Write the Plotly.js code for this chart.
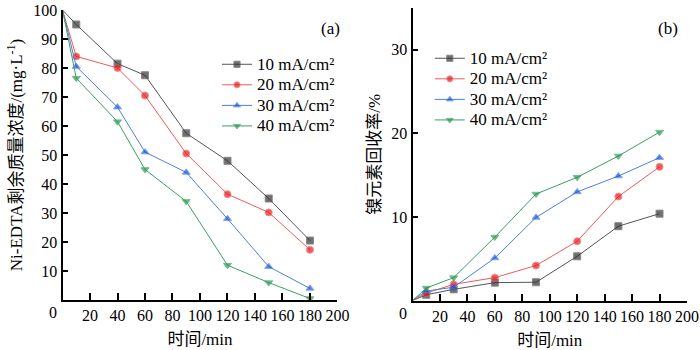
<!DOCTYPE html>
<html>
<head>
<meta charset="utf-8">
<script src="https://cdn.plot.ly/plotly-3.0.1.min.js"></script>
<style>html,body{margin:0;padding:0;background:#fff;}#chart{width:700px;height:350px;}</style>
</head>
<body>
<div id="chart"></div>
<script>
// Panel (a): Ni-EDTA residual concentration
const timeA = [0, 10, 40, 60, 90, 120, 150, 180];
const concA_10 = [100, 95, 81.5, 77.5, 57.5, 48, 35, 20.5];
const concA_20 = [100, 84, 80, 70.5, 50.5, 36.5, 30.2, 17.3];
const concA_30 = [100, 80.5, 66.5, 51, 44, 28, 11.5, 4];
const concA_40 = [100, 76.5, 61.5, 45, 34, 12, 6, 0.5];

// Panel (b): Ni recovery rate
const timeB = [0, 10, 30, 60, 90, 120, 150, 180];
const recB_10 = [0, 0.7, 1.35, 2.15, 2.2, 5.3, 8.9, 10.4];
const recB_20 = [0, 0.9, 1.95, 2.75, 4.2, 7.1, 12.45, 16.0];
const recB_30 = [0, 1.15, 1.6, 5.1, 9.95, 13.0, 14.9, 17.1];
const recB_40 = [0, 1.5, 2.75, 7.6, 12.75, 14.75, 17.3, 20.15];

const seriesNames = ['10 mA/cm²', '20 mA/cm²', '30 mA/cm²', '40 mA/cm²'];
const xTicks = [20, 40, 60, 80, 100, 120, 140, 160, 180, 200];
const yTicksA = [10, 20, 30, 40, 50, 60, 70, 80, 90, 100];
const yTicksB = [10, 20, 30];

const FONT = '"Liberation Serif", "Noto Sans CJK SC", serif';
const styles = [
  {line: '#555555', marker: '#333333', symbol: 'square'},
  {line: '#f05a5a', marker: '#e8161b', symbol: 'circle'},
  {line: '#4b7fe0', marker: '#1250e0', symbol: 'triangle-up'},
  {line: '#3aa062', marker: '#1f9a50', symbol: 'triangle-down'}
];
const sizes = () => timeA.map((_, i) => i === 0 ? 0 : 7);
const legendLabel = (s) => '<span style="font-size:17px">' + s + '</span>';

const dataA = [concA_10, concA_20, concA_30, concA_40];
const dataB = [recB_10, recB_20, recB_30, recB_40];
const traces = [];
dataA.forEach((ys, k) => traces.push({
  x: timeA, y: ys, xaxis: 'x', yaxis: 'y', type: 'scatter', mode: 'lines+markers',
  name: legendLabel(seriesNames[k]), legend: 'legend', cliponaxis: false,
  line: {color: styles[k].line, width: 1},
  marker: {color: styles[k].marker, symbol: styles[k].symbol, size: sizes()}
}));
dataB.forEach((ys, k) => traces.push({
  x: timeB, y: ys, xaxis: 'x2', yaxis: 'y2', type: 'scatter', mode: 'lines+markers',
  name: legendLabel(seriesNames[k]), legend: 'legend2', cliponaxis: false,
  line: {color: styles[k].line, width: 1},
  marker: {color: styles[k].marker, symbol: styles[k].symbol, size: sizes()}
}));

const mkFont = (s) => ({family: FONT, size: s, color: '#000'});
const axisCommon = {
  showline: true, linecolor: '#000', linewidth: 2, mirror: false,
  ticks: 'inside', tickwidth: 2, tickcolor: '#000', showgrid: false, zeroline: false,
  tickfont: mkFont(16), tickangle: 0, fixedrange: true
};
const titleFont = mkFont(17);

const layout = {
  width: 700, height: 350,
  margin: {l: 0, r: 0, t: 0, b: 0},
  paper_bgcolor: '#fff', plot_bgcolor: '#fff',
  font: mkFont(16),
  xaxis: Object.assign({}, axisCommon, {domain: [0.0893, 0.4821], range: [0, 200], anchor: 'y',
    tickmode: 'array', tickvals: xTicks, ticklen: 7,
    title: {text: '时间/min', font: titleFont, standoff: 10}}),
  yaxis: Object.assign({}, axisCommon, {domain: [0.142857, 0.971429], range: [0, 100], anchor: 'x',
    tickmode: 'array', tickvals: yTicksA, ticklen: 5,
    title: {text: 'Ni-EDTA剩余质量浓度/(mg·L<sup>-1</sup>)', font: titleFont, standoff: 6}}),
  xaxis2: Object.assign({}, axisCommon, {domain: [0.5893, 0.9814], range: [0, 200], anchor: 'y2',
    tickmode: 'array', tickvals: xTicks, ticklen: 7,
    title: {text: '时间/min', font: titleFont, standoff: 10}}),
  yaxis2: Object.assign({}, axisCommon, {domain: [0.1411, 0.9771], range: [0, 35], anchor: 'x2',
    tickmode: 'array', tickvals: yTicksB, ticklen: 5,
    title: {text: '镍元素回收率/%', font: titleFont, standoff: 6}}),
  legend: {x: 0.31, y: 1 - 49/350, xanchor: 'left', yanchor: 'top', bgcolor: 'rgba(0,0,0,0)',
    font: mkFont(13.5), tracegroupgap: 0, itemwidth: 30},
  legend2: {x: 0.614, y: 1 - 43/350, xanchor: 'left', yanchor: 'top', bgcolor: 'rgba(0,0,0,0)',
    font: mkFont(13.5), tracegroupgap: 0, itemwidth: 30},
  annotations: [
    {text: '(a)', xref: 'paper', yref: 'paper', x: 330/700, y: 1 - 17/350, showarrow: false, font: mkFont(17)},
    {text: '(b)', xref: 'paper', yref: 'paper', x: 680/700, y: 1 - 17/350, showarrow: false, font: mkFont(17)},
    {text: '0', xref: 'x', yref: 'y', x: 0, y: 0, xshift: -10, yshift: -13, showarrow: false, font: mkFont(16)},
    {text: '0', xref: 'x2', yref: 'y2', x: 0, y: 0, xshift: -10, yshift: -13, showarrow: false, font: mkFont(16)}
  ],
  showlegend: true
};

Plotly.newPlot('chart', traces, layout, {displayModeBar: false, staticPlot: true});
</script>
</body>
</html>
